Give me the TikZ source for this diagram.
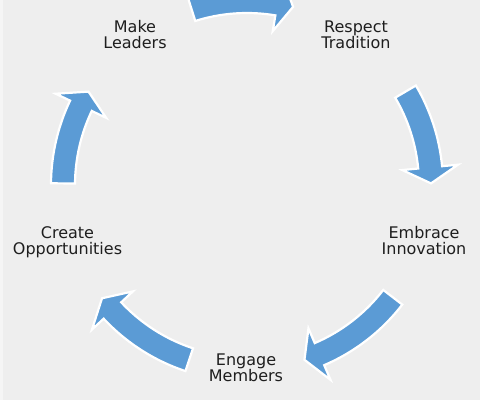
\documentclass[tikz,border=0pt]{standalone}
\usepackage{fontspec}
\setmainfont{DejaVu Sans}
\definecolor{bg}{HTML}{EEEEEE}
\definecolor{bgedge}{HTML}{F5F5F5}
\definecolor{arrowblue}{HTML}{5B9BD5}
\definecolor{txt}{HTML}{1E1E1E}
% tail angle, head-base angle, tip angle
\newcommand\cycarrow[3]{%
  \draw[cyc] ([shift={(#1:196bp)}]c) arc[start angle=#1, end angle=#2, radius=196bp]
    -- ([shift={(#2:212bp)}]c) -- ([shift={(#3:184bp)}]c) -- ([shift={(#2:156bp)}]c)
    -- ([shift={(#2:172bp)}]c) arc[start angle=#2, end angle=#1, radius=172bp] -- cycle;}
\begin{document}
\begin{tikzpicture}[x=1bp,y=1bp,
  lbl/.style={font=\fontsize{16bp}{16bp}\selectfont, align=center, text=txt, inner sep=0pt, anchor=base},
  cyc/.style={fill=arrowblue, draw=white, line width=2.2bp, line join=miter}]
\fill[bg] (0,0) rectangle (480,400);
\fill[bgedge] (0,0) rectangle (3,400);
\useasboundingbox (0,0) rectangle (480,400);
\clip (0,0) rectangle (480,400);
\coordinate (c) at (247,215);
\cycarrow{107.5}{80.5}{75.5}
\cycarrow{30.5}{5.5}{0.5}
\cycarrow{-37.6}{-66.8}{-71.8}
\cycarrow{251.7}{223}{218}
\cycarrow{179.5}{154.5}{149.5}
\node[lbl] (lead)  at (135,351.7)  {Make\\Leaders};
\node[lbl] (trad)  at (356,351.7)  {Respect\\Tradition};
\node[lbl] (innov) at (424,145.7)  {Embrace\\Innovation};
\node[lbl] (memb)  at (246,18.3)   {Engage\\Members};
\node[lbl] (opp)   at (67.5,145.7) {Create\\Opportunities};
\end{tikzpicture}
\end{document}
